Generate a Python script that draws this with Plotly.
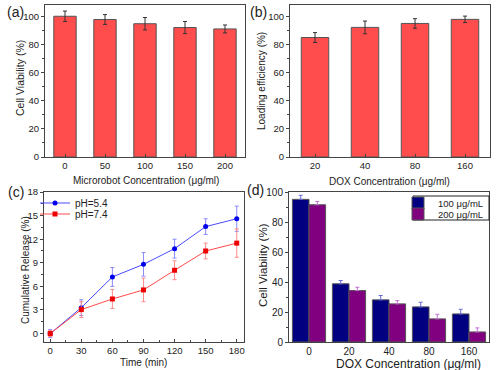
import plotly.graph_objects as go

W, H = 498, 370

# (a)
a_cats = ["0", "50", "100", "150", "200"]
a_vals = [100.0, 97.7, 94.7, 92.0, 91.0]
a_err = [3.7, 3.5, 4.4, 4.3, 2.8]

# (b)
b_cats = ["20", "40", "80", "160"]
b_vals = [84.9, 92.1, 94.9, 97.8]
b_err = [3.5, 4.5, 3.4, 2.3]

# (c)
c_time = [0, 30, 60, 90, 120, 150, 180]
c_ph54 = [0.0, 3.3, 7.2, 8.8, 10.8, 13.6, 14.6]
c_ph54_err = [0.5, 1.0, 1.2, 1.5, 1.2, 1.0, 1.6]
c_ph74 = [0.0, 3.05, 4.4, 5.55, 8.05, 10.5, 11.5]
c_ph74_err = [0.4, 1.0, 1.2, 1.5, 1.2, 1.0, 1.8]

# (d)
d_cats = ["0", "20", "40", "80", "160"]
d_100 = [95.1, 38.8, 28.1, 23.4, 18.7]
d_100_err = [2.7, 2.2, 2.9, 3.1, 3.1]
d_200 = [91.5, 34.3, 25.4, 15.4, 6.7]
d_200_err = [2.2, 2.2, 2.2, 3.1, 2.7]

FONT = "Liberation Sans, Arial, sans-serif"
TXT = "#222222"


def px(x):
    return x / W


def py(y):
    return 1 - y / H


def xd(x0, x1):
    return [px(x0), px(x1)]


def yd(y0, y1):
    return [py(y1), py(y0)]


fig = go.Figure()

bar_line = dict(color="#555555", width=1)

fig.add_trace(go.Bar(x=a_cats, y=a_vals, width=0.56, marker=dict(color="#ff4d4d", line=bar_line),
                     error_y=dict(type="data", array=a_err, color="#333333", thickness=1, width=2),
                     showlegend=False, xaxis="x", yaxis="y"))
fig.add_trace(go.Bar(x=b_cats, y=b_vals, width=0.55, marker=dict(color="#ff4d4d", line=bar_line),
                     error_y=dict(type="data", array=b_err, color="#333333", thickness=1, width=2),
                     showlegend=False, xaxis="x2", yaxis="y2"))

fig.add_trace(go.Scatter(x=c_time, y=c_ph54, mode="lines+markers", name="pH=5.4",
                         line=dict(color="#4a4aff", width=1),
                         marker=dict(color="#0000ee", size=5, symbol="circle"),
                         error_y=dict(type="data", array=c_ph54_err, color="#8a8aff", thickness=1, width=2),
                         xaxis="x3", yaxis="y3", legend="legend"))
fig.add_trace(go.Scatter(x=c_time, y=c_ph74, mode="lines+markers", name="pH=7.4",
                         line=dict(color="#ff4a4a", width=1),
                         marker=dict(color="#ee0000", size=5, symbol="square"),
                         error_y=dict(type="data", array=c_ph74_err, color="#ff8a8a", thickness=1, width=2),
                         xaxis="x3", yaxis="y3", legend="legend2"))

zeros = [0] * len(d_cats)
fig.add_trace(go.Bar(x=d_cats, y=d_100, name="100 μg/mL",
                     marker=dict(color="#000080", line=bar_line),
                     error_y=dict(type="data", symmetric=False, array=d_100_err, arrayminus=zeros,
                                  color="#6a6ad8", thickness=1, width=2),
                     xaxis="x4", yaxis="y4", legend="legend3"))
fig.add_trace(go.Bar(x=d_cats, y=d_200, name="200 μg/mL",
                     marker=dict(color="#800080", line=bar_line),
                     error_y=dict(type="data", symmetric=False, array=d_200_err, arrayminus=zeros,
                                  color="#c070d0", thickness=1, width=2),
                     xaxis="x4", yaxis="y4", legend="legend4"))


def axis(size=9.5, **kw):
    d = dict(showline=True, mirror=True, linecolor="#444444", linewidth=1, automargin=False,
             ticks="outside", ticklen=3, tickcolor="#444444", showgrid=False, zeroline=False,
             tickfont=dict(family=FONT, size=size, color=TXT))
    d.update(kw)
    return d


def minor(dt, ticks="outside"):
    return dict(ticks=ticks, ticklen=2, tickcolor="#444444", dtick=dt)


def leg(x, y, size=10):
    return dict(x=px(x), y=py(y), xanchor="left", yanchor="middle", bgcolor="rgba(0,0,0,0)",
                borderwidth=0, font=dict(family=FONT, size=size, color=TXT), itemwidth=30)


layout = dict(
    width=W, height=H, margin=dict(l=0, r=0, t=0, b=0, pad=0, autoexpand=False),
    paper_bgcolor="white", plot_bgcolor="white",
    font=dict(family=FONT, color=TXT),
    barmode="group",
    xaxis=axis(domain=xd(45, 245), anchor="y", type="category", ticks="inside"),
    yaxis=axis(domain=yd(5, 157), anchor="x", range=[0, 108], dtick=20, minor=minor(10)),
    xaxis2=axis(domain=xd(290, 490), anchor="y2", type="category", ticks="inside"),
    yaxis2=axis(domain=yd(5, 157), anchor="x2", range=[0, 108], dtick=20, minor=minor(10)),
    xaxis3=axis(domain=xd(44, 244), anchor="y3", range=[-6, 187], dtick=30, ticks="inside",
                minor=minor(15, "inside")),
    yaxis3=axis(domain=yd(192, 342), anchor="x3", range=[-1.07, 18], dtick=3, minor=minor(1.5)),
    xaxis4=axis(10, domain=xd(289, 489), anchor="y4", type="category", ticks="inside"),
    yaxis4=axis(10, domain=yd(192, 342), anchor="x4", range=[0, 100], dtick=20, minor=minor(10)),
    legend=leg(35, 203),
    legend2=leg(35, 214),
    legend3=leg(398, 203, 9.5),
    legend4=leg(398, 214, 9.5),
    bargap=0.17, bargroupgap=0.0,
    shapes=[dict(type="rect", xref="paper", yref="paper", x0=px(413), x1=px(489),
                 y0=py(196), y1=py(220), line=dict(color="#222222", width=1),
                 fillcolor="rgba(0,0,0,0)", layer="above")],
)
fig.update_layout(**layout)

# panel letters and axis titles
texts = [
    ("(a)", 16, 12, 0, 14), ("(b)", 258, 12, 0, 14), ("(c)", 16, 192, 0, 14), ("(d)", 256, 190, 0, 14),
    ("Microrobot Concentration (μg/ml)", 146, 180, 0, 10),
    ("DOX Concentration (μg/ml)", 389, 181, 0, 10),
    ("Time (min)", 143, 362, 0, 10),
    ("DOX Concentration (μg/ml)", 408, 364, 0, 12),
    ("Cell Viability (%)", 20, 78, -90, 10.5),
    ("Loading efficiency (%)", 261, 81, -90, 10),
    ("Cumulative Release (%)", 25, 270, -90, 10),
    ("Cell Viability (%)", 263, 265, -90, 11.5),
]
for t, x, y, ang, fs in texts:
    fig.add_annotation(text=t, x=px(x), y=py(y), xref="paper", yref="paper",
                       xanchor="center", yanchor="middle", textangle=ang, showarrow=False,
                       font=dict(family=FONT, size=fs, color=TXT))

fig.write_html("out.html", post_script="document.body.style.margin='0';",
               config={"displayModeBar": False})
